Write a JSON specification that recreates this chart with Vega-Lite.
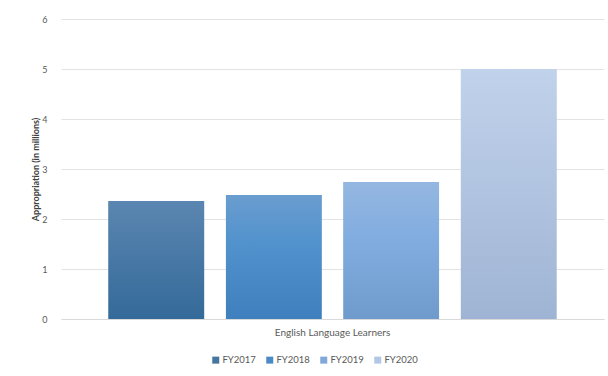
{
  "$schema": "https://vega.github.io/schema/vega-lite/v6.json",
  "autosize": {"type": "none"},
  "width": 543,
  "height": 300,
  "padding": {"left": 61, "top": 19, "right": 4, "bottom": 57},
  "background": "white",
  "config": {
    "view": {"stroke": null},
    "font": "Lato"
  },
  "data": {
    "values": [
      {"program": "English Language Learners", "year": "FY2017", "amount": 2.36},
      {"program": "English Language Learners", "year": "FY2018", "amount": 2.48},
      {"program": "English Language Learners", "year": "FY2019", "amount": 2.74},
      {"program": "English Language Learners", "year": "FY2020", "amount": 5.0}
    ]
  },
  "encoding": {
    "x": {
      "field": "program",
      "type": "nominal",
      "title": null,
      "scale": {"paddingInner": 0, "paddingOuter": 0.106},
      "axis": {
        "labelAngle": 0,
        "ticks": false,
        "domainColor": "#d9d9d9",
        "labelColor": "#595959",
        "labelFontSize": 10,
        "labelPadding": 8
      }
    },
    "xOffset": {
      "field": "year",
      "type": "nominal",
      "scale": {"paddingInner": 0.186, "paddingOuter": 0}
    },
    "y": {
      "field": "amount",
      "type": "quantitative",
      "title": "Appropriation (in millions)",
      "scale": {"domain": [0, 6]},
      "axis": {
        "values": [0, 1, 2, 3, 4, 5, 6],
        "domain": false,
        "ticks": false,
        "gridColor": "#e3e3e3",
        "labelColor": "#595959",
        "labelFontSize": 9,
        "labelPadding": 14,
        "titleColor": "#404040",
        "titleFontSize": 9,
        "titleFontWeight": "bold",
        "titlePadding": 1
      }
    }
  },
  "layer": [
    {
      "mark": {"type": "bar"},
      "encoding": {
        "color": {
          "field": "year",
          "type": "nominal",
          "title": null,
          "scale": {
            "domain": ["FY2017", "FY2018", "FY2019", "FY2020"],
            "range": ["#46769f", "#4c8ac6", "#80a9da", "#b3c6e4"]
          },
          "legend": {
            "orient": "none",
            "legendX": 150,
            "legendY": 336,
            "direction": "horizontal",
            "symbolType": "square",
            "symbolSize": 49,
            "symbolStrokeWidth": 0,
            "labelColor": "#595959",
            "labelFontSize": 9.5,
            "labelOffset": 2,
            "columnPadding": 9
          }
        }
      }
    },
    {
      "transform": [{"filter": "datum.year == 'FY2017'"}],
      "mark": {"type": "bar", "color": {"gradient": "linear", "x1": 0, "y1": 0, "x2": 0, "y2": 1, "stops": [{"offset": 0, "color": "#5b86b1"}, {"offset": 1, "color": "#346a99"}]}}
    },
    {
      "transform": [{"filter": "datum.year == 'FY2018'"}],
      "mark": {"type": "bar", "color": {"gradient": "linear", "x1": 0, "y1": 0, "x2": 0, "y2": 1, "stops": [{"offset": 0, "color": "#6a9dcf"}, {"offset": 0.4, "color": "#5192cd"}, {"offset": 1, "color": "#3f7fbd"}]}}
    },
    {
      "transform": [{"filter": "datum.year == 'FY2019'"}],
      "mark": {"type": "bar", "color": {"gradient": "linear", "x1": 0, "y1": 0, "x2": 0, "y2": 1, "stops": [{"offset": 0, "color": "#94b7e0"}, {"offset": 0.4, "color": "#82ade0"}, {"offset": 1, "color": "#6f9bcc"}]}}
    },
    {
      "transform": [{"filter": "datum.year == 'FY2020'"}],
      "mark": {"type": "bar", "color": {"gradient": "linear", "x1": 0, "y1": 0, "x2": 0, "y2": 1, "stops": [{"offset": 0, "color": "#c1d2eb"}, {"offset": 1, "color": "#9fb4d4"}]}}
    }
  ]
}
